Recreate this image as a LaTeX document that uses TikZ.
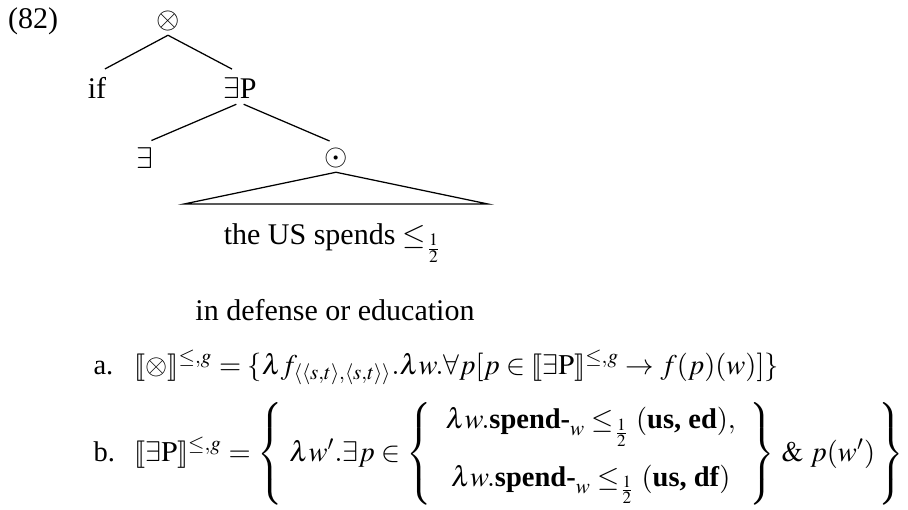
\documentclass[tikz,border=0pt,12pt]{standalone}
\usepackage{mathptmx}
\usepackage{stmaryrd}
\usepackage{fontspec}
\setmainfont{Liberation Serif}
\tikzset{lbl/.style={inner sep=1.5pt}, br/.style={line width=0.5pt},
  frm/.style={inner sep=0pt,anchor=base west,font=\fontsize{11.4}{14}\selectfont}}
\begin{document}
\begin{tikzpicture}[x=0.4pt,y=-0.4pt]
\useasboundingbox (0,0) rectangle (908,509);
\node[lbl] (ex82) at (33,21) {(82)};
\node[lbl] (top) at (168,21) {$\otimes$};
\node[lbl] (ifn) at (97,88) {if};
\node[lbl] (EP) at (240,88) {$\exists$P};
\node[lbl] (ex) at (145,158) {$\exists$};
\node[lbl] (dot) at (336,158) {$\odot$};
\coordinate (bl) at (184,204);
\coordinate (bre) at (488,204);
\node[lbl] (us) at (333,243) {the US spends $\leq_{\frac{1}{2}}$};
\node[lbl] (def) at (335,310) {in defense or education};
\draw[br,shorten >=3.6pt] (top.south) -- (ifn.north);
\draw[br,shorten >=3.6pt] (top.south) -- (EP.north);
\draw[br,shorten <=1.6pt,shorten >=2.8pt] (EP.south) -- (ex.north);
\draw[br,shorten <=1.6pt,shorten >=2.8pt] (EP.south) -- (dot.north);
\draw[br] (dot.south) -- (bl) -- (bre) -- cycle;
\node[frm] (la) at (93,374) {a.};
\node[frm] (fa) at (134,374) {$\llbracket\otimes\rrbracket^{\leq,g} = \{\lambda f_{\langle\langle s,t\rangle,\langle s,t\rangle\rangle}.\lambda w.\forall p[p\in\llbracket\exists\mathrm{P}\rrbracket^{\leq,g}\rightarrow f(p)(w)]\}$};
\node[frm] (lb) at (93,461) {b.};
\node[frm] (fb) at (134,461) {\arraycolsep=5.5pt$\llbracket\exists\mathrm{P}\rrbracket^{\leq,g} = \left\{\ \lambda w'.\exists p\in\left\{\begin{array}{c}\lambda w.\textbf{spend-}_w\leq_{\frac{1}{2}}(\textbf{us, ed}),\\[9pt] \lambda w.\textbf{spend-}_w\leq_{\frac{1}{2}}(\textbf{us, df})\end{array}\right\}\,\&\ p(w')\,\right\}$};
\end{tikzpicture}
\end{document}
